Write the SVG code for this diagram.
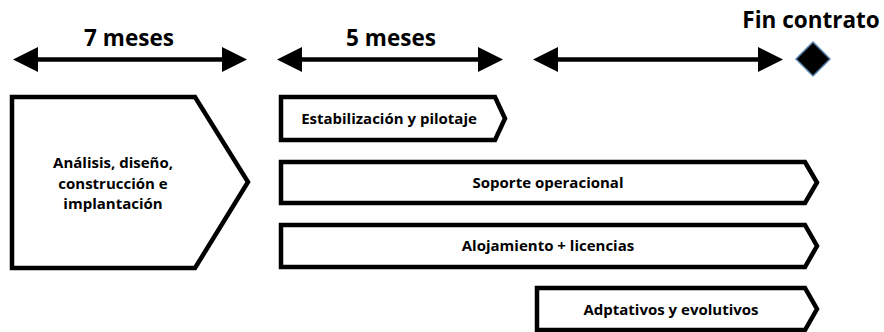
<svg xmlns="http://www.w3.org/2000/svg" width="884" height="332" viewBox="0 0 884 332">
<style>
  .shape { fill: #ffffff; stroke: #000000; stroke-width: 4.5; stroke-linejoin: miter; }
  .lbl { font-family: "Open Sans", "Liberation Sans", sans-serif; font-weight: bold; font-size: 15px; fill: #000; text-anchor: middle; }
  .hdr { font-family: "Open Sans", "Liberation Sans", sans-serif; font-weight: bold; font-size: 22.5px; fill: #000; text-anchor: middle; }
  .line { stroke: #000; stroke-width: 4.5; fill: none; }
  .head { fill: #000; }
</style>
<rect width="884" height="332" fill="#ffffff"/>
<g id="connectors">
  <g id="arrow-7m">
    <line class="line" x1="30" y1="59.5" x2="230" y2="59.5"/>
    <polygon class="head" points="13,59.5 38,47 38,72"/>
    <polygon class="head" points="247,59.5 222,47 222,72"/>
  </g>
  <g id="arrow-5m">
    <line class="line" x1="295" y1="59.5" x2="485" y2="59.5"/>
    <polygon class="head" points="277,59.5 302,47 302,72"/>
    <polygon class="head" points="503,59.5 478,47 478,72"/>
  </g>
  <g id="arrow-end">
    <line class="line" x1="550" y1="59.5" x2="765" y2="59.5"/>
    <polygon class="head" points="533,59.5 558,47 558,72"/>
    <polygon class="head" points="783,59.5 758,47 758,72"/>
  </g>
</g>
<g id="labels">
  <text class="hdr" x="129" y="46">7 meses</text>
  <text class="hdr" x="391" y="46">5 meses</text>
</g>
<g id="fin-contrato">
  <text class="hdr" x="811" y="28">Fin contrato</text>
  <polygon points="813,42 830,59 813,76 796,59" fill="#000" stroke="#5b84b1" stroke-width="1.5"/>
</g>
<g id="analisis">
  <polygon class="shape" points="12,97 195,97 248,182 195,268 12,268"/>
  <text class="lbl" x="113" y="168">Análisis, diseño,</text>
  <text class="lbl" x="113" y="189">construcción e</text>
  <text class="lbl" x="113" y="209">implantación</text>
</g>
<g id="estabilizacion">
  <polygon class="shape" points="281,97 495,97 505,118.5 495,140 281,140"/>
  <text class="lbl" x="389" y="124">Estabilización y pilotaje</text>
</g>
<g id="soporte">
  <polygon class="shape" points="281,162 805,162 817,182.5 805,203 281,203"/>
  <text class="lbl" x="548" y="188">Soporte operacional</text>
</g>
<g id="alojamiento">
  <polygon class="shape" points="281,225 805,225 817,246 805,267 281,267"/>
  <text class="lbl" x="548" y="251">Alojamiento + licencias</text>
</g>
<g id="adaptativos">
  <polygon class="shape" points="537,288 805,288 817,309 805,330 537,330"/>
  <text class="lbl" x="671" y="315">Adptativos y evolutivos</text>
</g>
</svg>
